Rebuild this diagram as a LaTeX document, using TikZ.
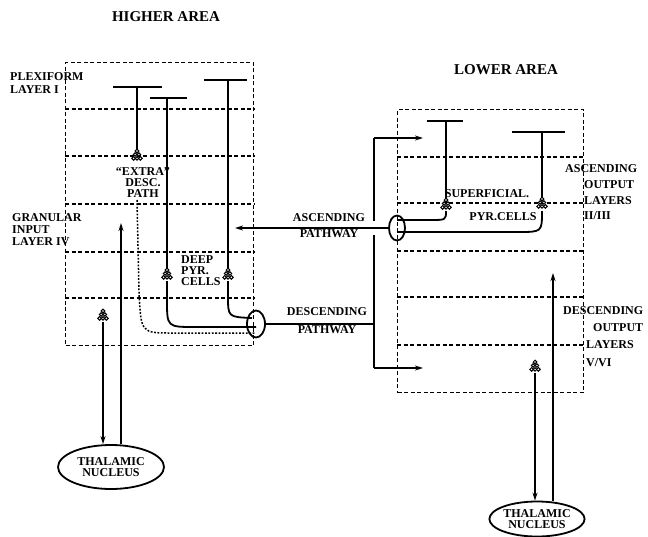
\documentclass[tikz,border=0pt]{standalone}
\usepackage{fontspec}
\setmainfont{Liberation Serif}
\usetikzlibrary{arrows.meta,shapes.geometric}
\begin{document}
\begin{tikzpicture}[x=1pt,y=-1pt,
  boxd/.style={draw, dash pattern=on 4pt off 2.5pt, line width=1.4pt},
  layer/.style={dash pattern=on 4pt off 2.5pt, line width=1.4pt},
  neu/.style={line width=1.8pt},
  tbar/.style={line width=2.2pt},
  arr/.style={-{Stealth[length=8pt,width=5pt]}, line width=1.8pt},
  dotl/.style={dash pattern=on 1.8pt off 1.6pt, line width=1.5pt},
  lbl/.style={font=\bfseries\fontsize{12}{11}\selectfont, inner sep=0pt, align=left},
  ttl/.style={font=\bfseries\fontsize{15}{15}\selectfont, inner sep=0pt},
  oval/.style={draw, ellipse, line width=1.8pt, inner sep=0pt},
  thal/.style={draw, ellipse, line width=1.8pt, inner sep=0pt, align=center,
     font=\bfseries\fontsize{12}{11}\selectfont},
  soma/.pic={
    \foreach \sx/\sy in {0/-5,-1.9/-1.5,1.9/-1.5,-3.4/2.4,0/2.4,3.4/2.4}
      \draw[line width=1pt, fill=white] (\sx,\sy) circle (1.8pt);
  }
]
\useasboundingbox (0,0) rectangle (648,536);

% ---------- titles ----------
\node[ttl] (thigh) at (166,17) {HIGHER AREA};
\node[ttl] (tlow) at (506,70) {LOWER AREA};

% ---------- higher area box ----------
\node[boxd, minimum width=188pt, minimum height=283pt, anchor=north west, inner sep=0pt] (hbox) at (65,62) {};
\foreach \ly in {109,156,204,252,298}
  \draw[layer] (hbox.west |- 0,\ly) -- (hbox.east |- 0,\ly);

% ---------- lower area box ----------
\node[boxd, minimum width=186pt, minimum height=283pt, anchor=north west, inner sep=0pt] (lbox) at (397,109) {};
\foreach \ly in {157,203,251,297,345}
  \draw[layer] (lbox.west |- 0,\ly) -- (lbox.east |- 0,\ly);

% ---------- coordinates ----------
% higher area neurons
\coordinate (aL) at (113,87);  \coordinate (aR) at (162,87);  \coordinate (aT) at (137,87);  \coordinate (aS) at (137,150);
\coordinate (bL) at (150,98);  \coordinate (bR) at (187,98);  \coordinate (bT) at (167,98);  \coordinate (bS) at (167,269);
\coordinate (cL) at (204,80);  \coordinate (cR) at (247,80);  \coordinate (cT) at (228,80);  \coordinate (cS) at (228,269);
\coordinate (bOut) at (167,281);
\coordinate (cOut) at (228,281);
\coordinate (dotS) at (137,200);
% lower area neurons
\coordinate (dL) at (427,121); \coordinate (dR) at (463,121); \coordinate (dT) at (446,121); \coordinate (dS) at (446,199);
\coordinate (eL) at (512,132); \coordinate (eR) at (565,132); \coordinate (eT) at (542,132); \coordinate (eS) at (542,198);
\coordinate (dOut) at (446,211);
\coordinate (eOut) at (542,211);
% pathway junctions
\coordinate (j1) at (374,138);
\coordinate (jg1) at (374,221);
\coordinate (jg2) at (374,235);
\coordinate (j2) at (374,368);
\coordinate (r1) at (423,138);
\coordinate (r2) at (423,368);
\coordinate (ascTip) at (235,228);
% thalamic fibres
\coordinate (lThS) at (103,322);
\coordinate (lThUp) at (121,223);
\coordinate (rThS) at (535,373);
\coordinate (rThUp) at (553,273);

% ---------- ovals and thalamic nuclei ----------
\node[oval, minimum width=18pt, minimum height=27pt] (ovL) at (256,324) {};
\node[oval, minimum width=16pt, minimum height=25pt] (ovR) at (397,228) {};
\node[thal, minimum width=106pt, minimum height=44pt] (thalL) at (111,467) {THALAMIC\\NUCLEUS};
\node[thal, minimum width=89pt, minimum height=35pt] (thalR) at (537,519) {THALAMIC\\NUCLEUS};
\coordinate (jd) at (j1 |- ovL.east);

% ---------- higher area neurons ----------
\draw[tbar] (aL) -- (aR);  \draw[neu] (aT) -- (aS);
\draw[tbar] (bL) -- (bR);  \draw[neu] (bT) -- (bS);
\draw[tbar] (cL) -- (cR);  \draw[neu] (cT) -- (cS);
\draw[neu] (bOut) -- (167,300) .. controls (167,327) .. (195,327) -- (ovL.center |- 0,327);
\draw[neu] (cOut) -- (228,296) .. controls (228,317) .. (252,318);
\draw[dotl] (dotS) -- (139,292) .. controls (141,333) .. (172,333) -- (ovL.center |- 0,333);

% ---------- lower area neurons ----------
\draw[tbar] (dL) -- (dR);  \draw[neu] (dT) -- (dS);
\draw[tbar] (eL) -- (eR);  \draw[neu] (eT) -- (eS);
\draw[neu] (dOut) .. controls (446,220) .. (430,220) -- (ovR.center |- 0,220);
\draw[neu] (eOut) .. controls (542,232) .. (518,232) -- (ovR.center |- 0,232);

% ---------- pathways ----------
\draw[arr] (ovR.west) -- (ascTip);
\draw[neu] (ovL.east) -- (jd);
\draw[neu] (j1) -- (jg1);
\draw[neu] (jg2) -- (j2);
\draw[arr] (j1) -- (r1);
\draw[arr] (j2) -- (r2);

% ---------- thalamic fibres ----------
\draw[arr] (lThS) -- (lThS |- thalL.north);
\draw[arr] (lThUp |- thalL.north) -- (lThUp);
\draw[arr] (rThS) -- (rThS |- thalR.north);
\draw[arr] (rThUp |- thalR.north) -- (rThUp);

% ---------- somata ----------
\pic at (137,156) {soma};
\pic at (167,275) {soma};
\pic at (228,275) {soma};
\pic at (446,205) {soma};
\pic at (542,204) {soma};
\pic at (103,316) {soma};
\pic at (535,367) {soma};

% ---------- labels ----------
\node[lbl, anchor=west, font=\bfseries\fontsize{12}{13}\selectfont] (lplex) at (10,83.5) {PLEXIFORM\\LAYER I};
\node[lbl, anchor=west, font=\bfseries\fontsize{12}{12}\selectfont] (lgran) at (12,230) {GRANULAR\\INPUT\\LAYER IV};
\node[lbl, align=center] (lextra) at (143,183) {``EXTRA''\\DESC.\\PATH};
\node[lbl, anchor=west] (ldeep) at (181,271) {DEEP\\PYR.\\CELLS};
\node[lbl, align=center, font=\bfseries\fontsize{12}{16}\selectfont] (lasc) at (329,226) {ASCENDING\\PATHWAY};
\node[lbl, align=center, font=\bfseries\fontsize{12}{18}\selectfont] (ldesc) at (327,321) {DESCENDING\\PATHWAY};
\node[lbl] (lsup) at (487,194) {SUPERFICIAL.};
\node[lbl] (lpyr) at (503,217) {PYR.CELLS};
\node[lbl, anchor=west] (lao1) at (565,169) {ASCENDING};
\node[lbl, anchor=west, font=\bfseries\fontsize{12}{15.5}\selectfont] (lao2) at (584,200.5) {OUTPUT\\LAYERS\\II/III};
\node[lbl, anchor=west] (ldo1) at (563,311) {DESCENDING};
\node[lbl, anchor=west] (ldo2) at (593,328) {OUTPUT};
\node[lbl, anchor=west] (ldo3) at (586,345) {LAYERS};
\node[lbl, anchor=west] (ldo4) at (586,363) {V/VI};
\end{tikzpicture}
\end{document}
